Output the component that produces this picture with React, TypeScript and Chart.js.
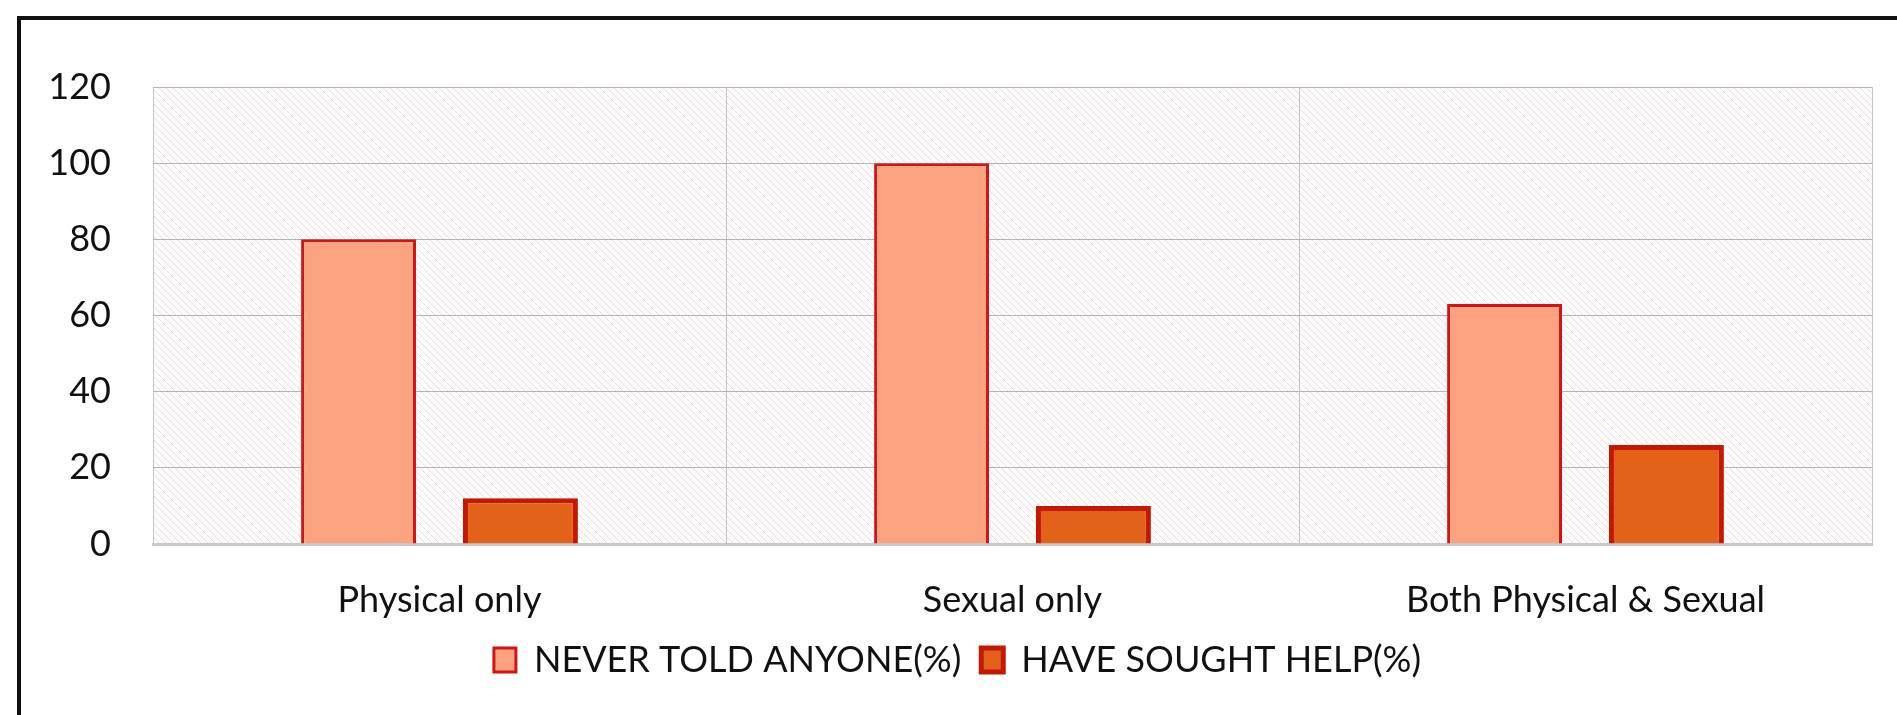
import React, { useEffect, useRef } from "react";
import { Chart, registerables } from "chart.js";

Chart.register(...registerables);

const categories = ["Physical only", "Sexual only", "Both Physical & Sexual"];
const neverTold = [80, 100, 63];
const soughtHelp = [12, 10, 26];
const seriesNames = ["NEVER TOLD ANYONE(%)", "HAVE SOUGHT HELP(%)"];
const yTicks = [0, 20, 40, 60, 80, 100, 120];

const FONT = "Lato, 'Open Sans', sans-serif";

const hatchPlugin = {
  id: "hatchBg",
  beforeDraw(chart: any) {
    const { ctx, chartArea } = chart;
    if (!chartArea) return;
    const p = document.createElement("canvas");
    p.width = 7;
    p.height = 7;
    const pc = p.getContext("2d")!;
    pc.fillStyle = "#fffdfd";
    pc.fillRect(0, 0, 7, 7);
    pc.strokeStyle = "rgba(190,170,175,0.4)";
    pc.lineWidth = 1;
    pc.beginPath();
    pc.moveTo(-1, -1);
    pc.lineTo(8, 8);
    pc.stroke();
    const pattern = ctx.createPattern(p, "repeat");
    ctx.save();
    ctx.fillStyle = pattern;
    ctx.fillRect(chartArea.left, chartArea.top, chartArea.right - chartArea.left, chartArea.bottom - chartArea.top);
    ctx.restore();
  },
};

export default function App() {
  const ref = useRef<HTMLCanvasElement>(null);

  useEffect(() => {
    const chart = new Chart(ref.current!, {
      type: "bar",
      data: {
        labels: categories,
        datasets: [
          {
            label: seriesNames[0],
            data: neverTold,
            backgroundColor: "#FBA27F",
            borderColor: "#D01515",
            borderWidth: 3,
            categoryPercentage: 0.565,
            barPercentage: 0.71,
          },
          {
            label: seriesNames[1],
            data: soughtHelp,
            backgroundColor: "#E2621A",
            borderColor: "#C41800",
            borderWidth: 5,
            categoryPercentage: 0.565,
            barPercentage: 0.71,
          },
        ],
      },
      options: {
        responsive: false,
        animation: false,
        layout: { padding: { left: 22, right: 25, top: 67, bottom: 27 } },
        plugins: {
          tooltip: { enabled: false },
          legend: {
            position: "bottom",
            labels: {
              font: { family: FONT, size: 36 },
              color: "#111",
              boxWidth: 22,
              boxHeight: 24,
              padding: 20,
            },
          },
        },
        scales: {
          x: {
            grid: { display: true, offset: true, color: "#c4c4c4", drawTicks: false },
            border: { display: true, color: "#c8c8c8", width: 3 },
            ticks: { font: { family: FONT, size: 36 }, color: "#111", padding: 35 },
            afterFit(scale: any) {
              scale.height = 78;
            },
          },
          y: {
            min: 0,
            max: 120,
            afterBuildTicks(scale: any) {
              scale.ticks = yTicks.map((v) => ({ value: v }));
            },
            grid: { color: "#b4b4b4", drawTicks: false },
            border: { display: false },
            ticks: { font: { family: FONT, size: 36 }, color: "#111", padding: 42 },
            afterFit(scale: any) {
              scale.width = 110;
            },
          },
        },
      },
      plugins: [hatchPlugin],
    });
    return () => chart.destroy();
  }, []);

  return (
    <div
      style={{
        position: "absolute",
        left: 17,
        top: 16,
        width: 1876,
        height: 695,
        borderLeft: "4px solid #111",
        borderTop: "4px solid #111",
        background: "#fff",
        overflow: "hidden",
      }}
    >
      <canvas ref={ref} width={1876} height={695} style={{ display: "block", width: 1876, height: 695 }} />
    </div>
  );
}
